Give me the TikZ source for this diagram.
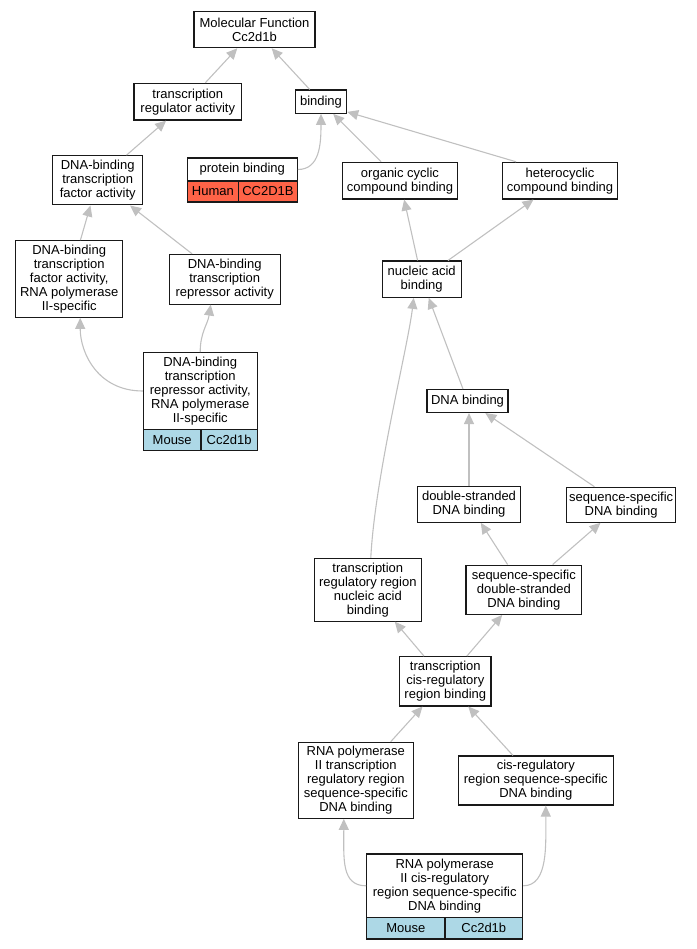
\documentclass[tikz,border=0pt]{standalone}
\usepackage{fontspec}
\setmainfont{Liberation Sans}
\usetikzlibrary{arrows.meta}
\definecolor{edgegray}{RGB}{192,192,192}
\definecolor{tomatoc}{RGB}{255,99,71}
\definecolor{lightbluec}{RGB}{173,216,230}
\tikzset{
  box/.style={draw=black!90, line width=1.1pt, fill=white, align=center, inner sep=1pt,
    font=\fontsize{13}{14}\selectfont},
  cell/.style={box},
  mousecell/.style={cell, fill=lightbluec},
  humancell/.style={cell, fill=tomatoc},
  edge/.style={draw=edgegray, line width=1.1pt, -{Triangle[length=11pt,width=10pt]}},
}
\newcommand{\bx}[6]{\node[#1, minimum width=#4pt, minimum height=#5pt] (#2) at #3 {#6};}
\begin{document}
\begin{tikzpicture}[x=1pt,y=-1pt]
\useasboundingbox (0,0) rectangle (696,949);
% nodes
\bx{box}{mf}{(254.5,29.7)}{121}{36}{Molecular Function\\Cc2d1b}
\bx{box}{tra}{(187.8,101.7)}{107.7}{36.7}{transcription\\regulator activity}
\bx{box}{binding}{(321,101.7)}{51.3}{23.3}{binding}
\bx{box}{dbtfa}{(97.7,180.3)}{90}{49.3}{DNA-binding\\transcription\\factor activity}
\bx{box}{pbtop}{(242.3,169.5)}{110}{23}{protein binding}
\bx{humancell}{pbh}{(212.9,191.5)}{51.2}{21}{Human}
\bx{humancell}{pbg}{(267.9,191.5)}{58.8}{21}{CC2D1B}
\bx{box}{occb}{(400,180.7)}{115.3}{36.7}{organic cyclic\\compound binding}
\bx{box}{hcb}{(560,180.7)}{114.7}{36.7}{heterocyclic\\compound binding}
\bx{box}{rnatf}{(69.2,279)}{107}{76.6}{DNA-binding\\transcription\\factor activity,\\RNA polymerase\\II-specific}
\bx{box}{repr}{(224.7,279.2)}{110.7}{49.7}{DNA-binding\\transcription\\repressor activity}
\bx{box}{nab}{(421.7,279.2)}{78.7}{36.3}{nucleic acid\\binding}
\bx{box}{reprtwo}{(200.2,391)}{113.7}{76.6}{DNA-binding\\transcription\\repressor activity,\\RNA polymerase\\II-specific}
\bx{mousecell}{reprm}{(172.2,439.7)}{57.7}{21}{Mouse}
\bx{mousecell}{reprg}{(229.1,439.7)}{56.3}{21}{Cc2d1b}
\bx{box}{dnab}{(467.5,401)}{81}{23}{DNA binding}
\bx{box}{dsdna}{(469,504.5)}{103.4}{35.6}{double-stranded\\DNA binding}
\bx{box}{ssdna}{(621.2,504.8)}{109}{35}{sequence-specific\\DNA binding}
\bx{box}{trr}{(367.8,589.7)}{107}{62.7}{transcription\\regulatory region\\nucleic acid\\binding}
\bx{box}{ssds}{(523.8,589.7)}{115.7}{49.3}{sequence-specific\\double-stranded\\DNA binding}
\bx{box}{tcrb}{(445.3,681.3)}{91.3}{49.3}{transcription\\cis-regulatory\\region binding}
\bx{box}{rnatrr}{(355.8,780.3)}{115}{76}{RNA polymerase\\II transcription\\regulatory region\\sequence-specific\\DNA binding}
\bx{box}{cis}{(535.8,780.5)}{155}{49}{cis-regulatory\\region sequence-specific\\DNA binding}
\bx{box}{rnacis}{(444.7,885.8)}{156}{63.7}{RNA polymerase\\II cis-regulatory\\region sequence-specific\\DNA binding}
\bx{mousecell}{rnacism}{(405.8,928.3)}{78.3}{21.3}{Mouse}
\bx{mousecell}{rnacisg}{(483.8,928.3)}{77.7}{21.3}{Cc2d1b}
% edges
\draw[edge] (tra) -- (mf);
\draw[edge] (binding) -- (mf);
\draw[edge] (dbtfa) -- (tra);
\draw[edge] (pbtop.east) .. controls +(22,0) and +(0,30) .. (binding.south);
\draw[edge] (occb) -- (binding);
\draw[edge] ([xshift=14pt]hcb.north west) -- ([yshift=2pt]binding.south east);
\draw[edge] (rnatf) -- (dbtfa);
\draw[edge] (repr) -- (dbtfa);
\draw[edge] (nab) -- (occb);
\draw[edge] (nab) -- (hcb);
\draw[edge] (reprtwo.west) .. controls +(-45,0) and +(0,35) .. ([xshift=11pt]rnatf.south);
\draw[edge] (reprtwo.north) .. controls +(0,-20) and +(-3,20) .. ([xshift=-14pt]repr.south);
\draw[edge] (dnab) -- (nab);
\draw[edge] (dsdna.north) -- (dsdna.north |- dnab.south);
\draw[edge] (ssdna) -- (dnab);
\draw[edge] ([xshift=3pt]trr.north) .. controls +(4,-80) and +(-6,50) .. ([xshift=-8pt]nab.south);
\draw[edge] (ssds) -- (dsdna);
\draw[edge] (ssds) -- (ssdna);
\draw[edge] (tcrb) -- (trr);
\draw[edge] (tcrb) -- (ssds);
\draw[edge] (rnatrr) -- (tcrb);
\draw[edge] (cis) -- (tcrb);
\draw[edge] (rnacis.west) .. controls +(-25,0) and +(0,40) .. ([xshift=-12pt]rnatrr.south);
\draw[edge] (rnacis.east) .. controls +(25,0) and +(0,40) .. ([xshift=10pt]cis.south);
\end{tikzpicture}
\end{document}
